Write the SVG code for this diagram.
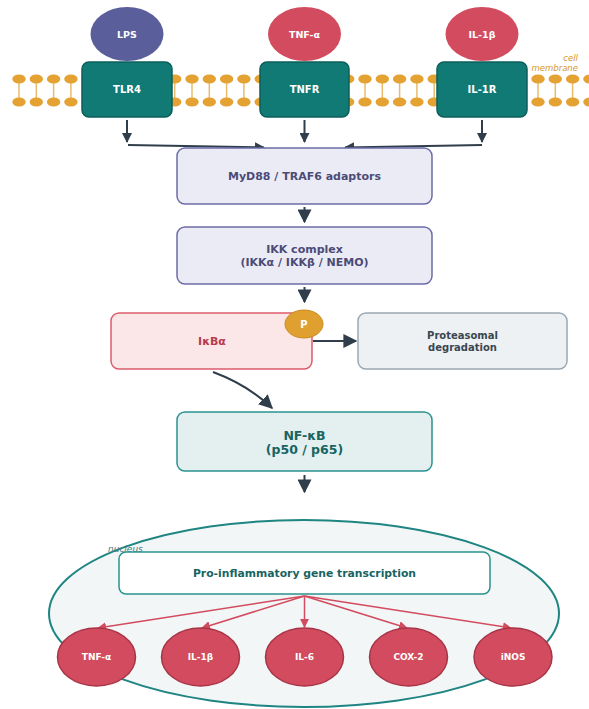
<svg xmlns="http://www.w3.org/2000/svg" width="589" height="709" viewBox="0 0 589 709">
<defs>
<marker id="ah" viewBox="0 0 10 10" refX="9" refY="5" markerWidth="10" markerHeight="10" markerUnits="userSpaceOnUse" orient="auto"><path d="M0,0 L10,5 L0,10 Z" fill="#2f3e4a"/></marker>
<marker id="ahb" viewBox="0 0 10 10" refX="9" refY="5" markerWidth="14" markerHeight="14" markerUnits="userSpaceOnUse" orient="auto"><path d="M0,0 L10,5 L0,10 Z" fill="#2f3e4a"/></marker>
<marker id="ahr" viewBox="0 0 10 10" refX="9" refY="5" markerWidth="9" markerHeight="9" markerUnits="userSpaceOnUse" orient="auto"><path d="M0,0 L10,5 L0,10 Z" fill="#d24b5e"/></marker>
<g id="lipid"><line x1="0" y1="79" x2="0" y2="102" stroke="#e0a030" stroke-width="1.5" opacity="0.7"/><ellipse cx="0" cy="79" rx="6.7" ry="4.6" fill="#e3a231"/><ellipse cx="0" cy="102" rx="6.7" ry="4.6" fill="#e3a231"/></g>
</defs>
<style>
text{font-family:"DejaVu Sans","Liberation Sans",sans-serif;font-weight:bold;text-anchor:middle;dominant-baseline:central}
.rec{fill:#117a75;stroke:#0b5f5b;stroke-width:1.5}
.recT{fill:#fff;font-size:10px}
.lig{fill:#d24b5e}
.ligT{fill:#fff;font-size:9.5px}
.gene{fill:#d24b5e;stroke:#a83447;stroke-width:1.5}
.geneT{fill:#fff;font-size:9px}
.dark{stroke:#2f3e4a;stroke-width:2;fill:none}
.red{stroke:#d24b5e;stroke-width:1.5;fill:none}
</style>
<rect width="589" height="709" fill="#fff"/>
<g id="membrane">
<use href="#lipid" x="19"/><use href="#lipid" x="36.3"/><use href="#lipid" x="53.6"/><use href="#lipid" x="70.9"/><use href="#lipid" x="88.2"/><use href="#lipid" x="105.5"/><use href="#lipid" x="122.8"/><use href="#lipid" x="140.1"/><use href="#lipid" x="157.4"/><use href="#lipid" x="174.7"/><use href="#lipid" x="192"/><use href="#lipid" x="209.3"/><use href="#lipid" x="226.6"/><use href="#lipid" x="243.9"/><use href="#lipid" x="261.2"/><use href="#lipid" x="278.5"/><use href="#lipid" x="295.8"/><use href="#lipid" x="313.1"/><use href="#lipid" x="330.4"/><use href="#lipid" x="347.7"/><use href="#lipid" x="365"/><use href="#lipid" x="382.3"/><use href="#lipid" x="399.6"/><use href="#lipid" x="416.9"/><use href="#lipid" x="434.2"/><use href="#lipid" x="451.5"/><use href="#lipid" x="468.8"/><use href="#lipid" x="486.1"/><use href="#lipid" x="503.4"/><use href="#lipid" x="520.7"/><use href="#lipid" x="538"/><use href="#lipid" x="555.3"/><use href="#lipid" x="572.6"/><use href="#lipid" x="589.9"/>
<text x="578" y="58" style="font-weight:normal;font-style:italic;font-size:8.5px;fill:#d4962a;text-anchor:end">cell</text>
<text x="578" y="68" style="font-weight:normal;font-style:italic;font-size:8.5px;fill:#d4962a;text-anchor:end">membrane</text>
</g>
<g id="connectors">
<line x1="127" y1="120" x2="127" y2="142" class="dark" marker-end="url(#ah)"/>
<line x1="304.5" y1="120" x2="304.5" y2="142" class="dark" marker-end="url(#ah)"/>
<line x1="482" y1="120" x2="482" y2="142" class="dark" marker-end="url(#ah)"/>
<line x1="128" y1="145" x2="264" y2="147.5" class="dark" marker-end="url(#ah)"/>
<line x1="482" y1="145" x2="345" y2="147.5" class="dark" marker-end="url(#ah)"/>
<line x1="304.5" y1="207" x2="304.5" y2="222" class="dark" marker-end="url(#ahb)"/>
<line x1="304.5" y1="287" x2="304.5" y2="302" class="dark" marker-end="url(#ahb)"/>
<line x1="313" y1="341" x2="356" y2="341" class="dark" marker-end="url(#ahb)"/>
<path d="M213,372 Q248,385 272,408" class="dark" marker-end="url(#ahb)"/>
<line x1="304.5" y1="475" x2="304.5" y2="492" class="dark" marker-end="url(#ahb)"/>
</g>
<g id="LPS"><ellipse cx="127" cy="34" rx="36.5" ry="27" fill="#5a5e9a"/><text x="127" y="34" class="ligT">LPS</text></g>
<g id="TNFa_lig"><ellipse cx="304.5" cy="34" rx="36.5" ry="27" class="lig"/><text x="304.5" y="34" class="ligT">TNF-α</text></g>
<g id="IL1b_lig"><ellipse cx="482" cy="34" rx="36.5" ry="27" class="lig"/><text x="482" y="34" class="ligT">IL-1β</text></g>
<g id="TLR4"><rect x="82" y="62" width="90" height="55" rx="7" class="rec"/><text x="127" y="89.5" class="recT">TLR4</text></g>
<g id="TNFR"><rect x="260" y="62" width="89" height="55" rx="7" class="rec"/><text x="304.5" y="89.5" class="recT">TNFR</text></g>
<g id="IL1R"><rect x="437" y="62" width="90" height="55" rx="7" class="rec"/><text x="482" y="89.5" class="recT">IL-1R</text></g>
<g id="MyD88"><rect x="177" y="148" width="255" height="56" rx="8" fill="#ebebf6" stroke="#6c6ca8" stroke-width="1.5"/><text x="304.5" y="176" style="font-size:11px;fill:#4b4b76">MyD88 / TRAF6 adaptors</text></g>
<g id="IKK"><rect x="177" y="227" width="255" height="57" rx="8" fill="#ebebf6" stroke="#6c6ca8" stroke-width="1.5"/><text x="304.5" y="249" style="font-size:11px;fill:#4b4b76">IKK complex</text><text x="304.5" y="262" style="font-size:11px;fill:#4b4b76">(IKKα / IKKβ / NEMO)</text></g>
<g id="IkBa"><rect x="111" y="313" width="201" height="56" rx="8" fill="#fbe7e7" stroke="#db5c6c" stroke-width="1.5"/><text x="212" y="341" style="font-size:11px;fill:#b83a50">IκBα</text></g>
<g id="P"><ellipse cx="304" cy="324" rx="19" ry="14" fill="#e0a030" stroke="#c88a22" stroke-width="1"/><text x="304" y="324" style="font-size:10px;fill:#fff">P</text></g>
<g id="proteasome"><rect x="358" y="313" width="209" height="56" rx="8" fill="#edf1f4" stroke="#9aa8b3" stroke-width="1.5"/><text x="462.5" y="335" style="font-size:10px;fill:#3a4650">Proteasomal</text><text x="462.5" y="347" style="font-size:10px;fill:#3a4650">degradation</text></g>
<g id="NFkB"><rect x="177" y="412" width="255" height="59" rx="8" fill="#e3f0ef" stroke="#2a9290" stroke-width="1.5"/><text x="304.5" y="435" style="font-size:12.5px;fill:#176462">NF-κB</text><text x="304.5" y="449" style="font-size:12.5px;fill:#176462">(p50 / p65)</text></g>
<g id="nucleus"><ellipse cx="304" cy="613.5" rx="255" ry="93.5" fill="#f2f6f7" stroke="#1e8582" stroke-width="2"/><text x="108" y="549" style="font-weight:normal;font-style:italic;font-size:9px;fill:#4a7a80;text-anchor:start">nucleus</text></g>
<g id="transcription"><rect x="119" y="552" width="371" height="42" rx="7" fill="#fff" stroke="#2a9290" stroke-width="1.5"/><text x="304.5" y="573" style="font-size:10.8px;fill:#176462">Pro-inflammatory gene transcription</text></g>
<g id="gene_connectors">
<line x1="304.5" y1="596" x2="98" y2="628" class="red" marker-end="url(#ahr)"/>
<line x1="304.5" y1="596" x2="202" y2="628" class="red" marker-end="url(#ahr)"/>
<line x1="304.5" y1="596" x2="304.5" y2="627" class="red" marker-end="url(#ahr)"/>
<line x1="304.5" y1="596" x2="407" y2="628" class="red" marker-end="url(#ahr)"/>
<line x1="304.5" y1="596" x2="511" y2="628" class="red" marker-end="url(#ahr)"/>
</g>
<g id="gene_TNFa"><ellipse cx="96.5" cy="657" rx="39" ry="29" class="gene"/><text x="96.5" y="657" class="geneT">TNF-α</text></g>
<g id="gene_IL1b"><ellipse cx="200.5" cy="657" rx="39" ry="29" class="gene"/><text x="200.5" y="657" class="geneT">IL-1β</text></g>
<g id="gene_IL6"><ellipse cx="304.5" cy="657" rx="39" ry="29" class="gene"/><text x="304.5" y="657" class="geneT">IL-6</text></g>
<g id="gene_COX2"><ellipse cx="408.5" cy="657" rx="39" ry="29" class="gene"/><text x="408.5" y="657" class="geneT">COX-2</text></g>
<g id="gene_iNOS"><ellipse cx="513" cy="657" rx="39" ry="29" class="gene"/><text x="513" y="657" class="geneT">iNOS</text></g>
</svg>
